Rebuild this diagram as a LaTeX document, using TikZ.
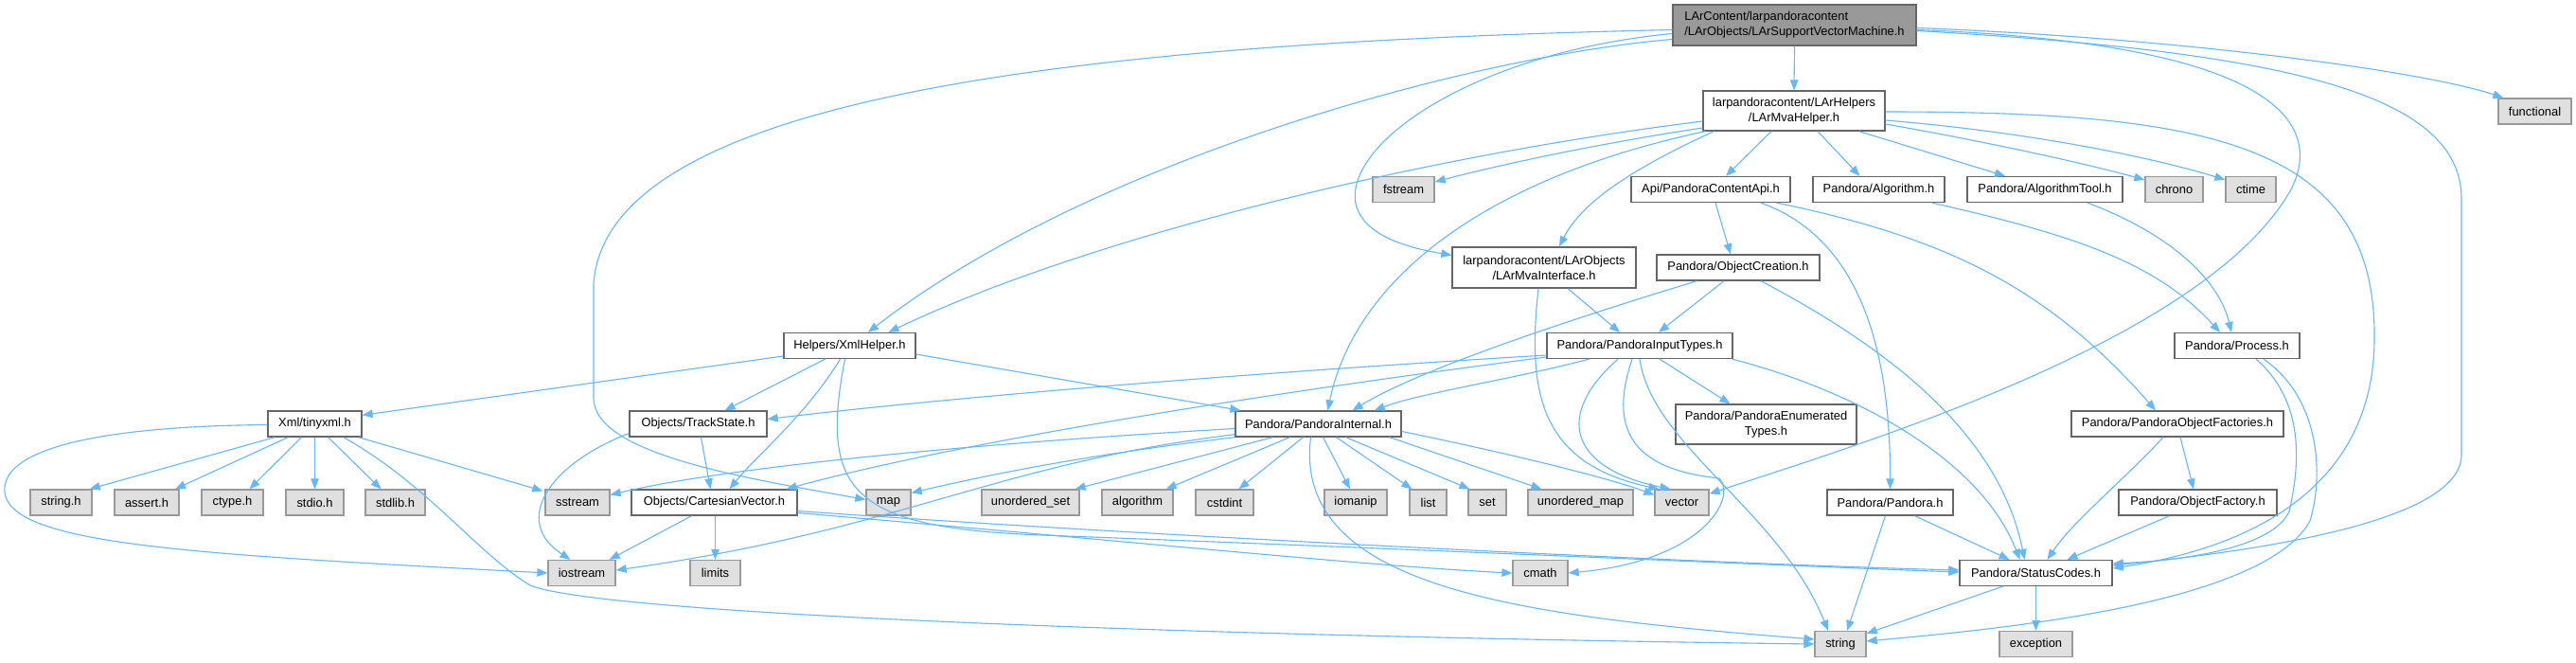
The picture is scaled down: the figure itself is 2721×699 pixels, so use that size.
\documentclass[tikz,border=0pt]{standalone}
\usepackage{fontspec}
\setmainfont{Liberation Sans}
\usetikzlibrary{arrows.meta,calc}
\definecolor{edgecol}{HTML}{63B8FF}
\definecolor{boxborder}{HTML}{666666}
\definecolor{rootfill}{HTML}{999999}
\definecolor{sysfill}{HTML}{E0E0E0}
\definecolor{sysborder}{HTML}{999999}
\newcommand\dxfont{\fontsize{12.9}{16}\selectfont}
\tikzset{
  nbox/.style={draw=boxborder, fill=white, line width=1.3pt, inner sep=0pt, font=\dxfont, align=center, text=black, minimum height=27},
  sbox/.style={nbox, draw=sysborder, fill=sysfill},
  rbox/.style={nbox, draw=boxborder, fill=rootfill},
  e/.style={draw=edgecol, line width=1.1pt, -{Triangle[length=11pt,width=8.5pt]}},
}
\begin{document}
\begin{tikzpicture}[x=1pt,y=-1pt]
\fill[white] (0,0) rectangle (2721,699);
\useasboundingbox (0,0) rectangle (2721,699);

% ---------- nodes ----------
\node[rbox, minimum width=257, minimum height=43, align=left] (main) at (1895.5,26.5) {LArContent/larpandoracontent\\/LArObjects/LArSupportVectorMachine.h};
\node[nbox, minimum width=192, minimum height=42] (mva) at (1895,117) {larpandoracontent/LArHelpers\\/LArMvaHelper.h};
\node[sbox, minimum width=77] (functional) at (2677.5,117.5) {functional};
\node[sbox, minimum width=65] (fstream) at (1482.5,200) {fstream};
\node[nbox, minimum width=168] (api) at (1807,200) {Api/PandoraContentApi.h};
\node[nbox, minimum width=139] (alg) at (1984.5,200) {Pandora/Algorithm.h};
\node[nbox, minimum width=164] (algtool) at (2160,200) {Pandora/AlgorithmTool.h};
\node[sbox, minimum width=61] (chrono) at (2296.5,200) {chrono};
\node[sbox, minimum width=53] (ctime) at (2377.5,200) {ctime};
\node[nbox, minimum width=194, minimum height=43] (mvaint) at (1631,282.5) {larpandoracontent/LArObjects\\/LArMvaInterface.h};
\node[nbox, minimum width=172] (objcr) at (1836,282.5) {Pandora/ObjectCreation.h};
\node[nbox, minimum width=139] (xmlh) at (897.5,365) {Helpers/XmlHelper.h};
\node[nbox, minimum width=196] (pit) at (1732,365) {Pandora/PandoraInputTypes.h};
\node[nbox, minimum width=132] (process) at (2363,365) {Pandora/Process.h};
\node[nbox, minimum width=99] (tinyxml) at (332.5,447.5) {Xml/tinyxml.h};
\node[nbox, minimum width=145] (trackstate) at (737.5,447.5) {Objects/TrackState.h};
\node[nbox, minimum width=175] (pint) at (1392.5,447.5) {Pandora/PandoraInternal.h};
\node[nbox, minimum width=191, minimum height=42] (enum) at (1865.5,448) {Pandora/PandoraEnumerated\\Types.h};
\node[nbox, minimum width=224] (objfs) at (2300,447.5) {Pandora/PandoraObjectFactories.h};

\node[sbox, minimum width=65] (stringh) at (64.5,530.5) {string.h};
\node[sbox, minimum width=68] (asserth) at (155,530.5) {assert.h};
\node[sbox, minimum width=65] (ctypeh) at (245.5,530.5) {ctype.h};
\node[sbox, minimum width=61] (stdioh) at (332.5,530.5) {stdio.h};
\node[sbox, minimum width=63] (stdlibh) at (417.5,530.5) {stdlib.h};
\node[sbox, minimum width=68] (sstream) at (610,530.5) {sstream};
\node[nbox, minimum width=175] (cartesian) at (754.5,530.5) {Objects/CartesianVector.h};
\node[sbox, minimum width=47] (map) at (938.5,530.5) {map};
\node[sbox, minimum width=103] (uset) at (1088.5,530.5) {unordered\_set};
\node[sbox, minimum width=75] (algorithm) at (1201.5,530.5) {algorithm};
\node[sbox, minimum width=61] (cstdint) at (1293.5,530.5) {cstdint};
\node[sbox, minimum width=66] (iomanip) at (1432,530.5) {iomanip};
\node[sbox, minimum width=39] (list) at (1508.5,530.5) {list};
\node[sbox, minimum width=40] (set) at (1571,530.5) {set};
\node[sbox, minimum width=111] (umap) at (1669.5,530.5) {unordered\_map};
\node[sbox, minimum width=57] (vector) at (1776.5,530.5) {vector};
\node[nbox, minimum width=133] (pandorah) at (1996.5,530.5) {Pandora/Pandora.h};
\node[nbox, minimum width=167] (objf) at (2321.5,530.5) {Pandora/ObjectFactory.h};

\node[sbox, minimum width=71] (iostream) at (614.5,605) {iostream};
\node[sbox, minimum width=53] (limits) at (755.5,605) {limits};
\node[sbox, minimum width=58] (cmath) at (1627,605) {cmath};
\node[nbox, minimum width=161] (status) at (2150.5,605) {Pandora/StatusCodes.h};

\node[sbox, minimum width=54] (string) at (1944,680) {string};
\node[sbox, minimum width=77] (exception) at (2150.5,680) {exception};

% ---------- edges: main ----------
\draw[e] (main.south) -- (mva.north);
\draw[e] ($(main.east)+(0,3)$) .. controls (2300,40) and (2560,75) .. ($(functional.north west)+(6,0)$);
\draw[e] ($(main.east)+(0,5)$) .. controls (2380,45) and (2460,120) .. (2420,200) .. controls (2330,360) and (1960,470) .. ($(vector.north east)+(0,5)$);
\draw[e] ($(main.east)+(0,6)$) .. controls (2420,55) and (2600,100) .. (2600,210) -- (2600,480) .. controls (2600,545) and (2420,578) .. ($(status.east)+(0,-8)$);
\draw[e] ($(main.west)+(0,15)$) .. controls (1550,60) and (1150,170) .. ($(xmlh.north)+(19.5,0)$);
\draw[e] ($(main.west)+(0,5)$) .. controls (1150,45) and (640,100) .. (627,300) -- (627,420) .. controls (627,480) and (790,505) .. ($(map.west)+(0,-3)$);
\draw[e] ($(main.west)+(0,9)$) .. controls (1560,55) and (1420,150) .. (1432,215) .. controls (1440,250) and (1490,262) .. ($(mvaint.west)+(0,-13)$);

% ---------- edges: LArMvaHelper ----------
\draw[e] ($(mva.west)+(0,18)$) .. controls (1700,150) and (1600,170) .. ($(fstream.east)+(0,-8)$);
\draw[e] ($(mva.west)+(0,11)$) .. controls (1500,165) and (1150,250) .. ($(xmlh.north)+(41,0)$);
\draw[e] ($(mva.south west)+(3,0)$) .. controls (1560,190) and (1430,300) .. ($(pint.north)+(10,0)$);
\draw[e] ($(mva.south west)+(12,0)$) .. controls (1720,180) and (1670,215) .. ($(mvaint.north)+(16,0)$);
\draw[e] ($(mva.south)+(-24,0)$) -- ($(api.north)+(16,0)$);
\draw[e] ($(mva.south)+(25,0)$) -- ($(alg.north)+(-20,0)$);
\draw[e] ($(mva.south east)+(-28,0)$) -- ($(algtool.north)+(-42,0)$);
\draw[e] ($(mva.east)+(0,14)$) .. controls (2100,150) and (2200,172) .. ($(chrono.north west)+(0,4)$);
\draw[e] ($(mva.east)+(0,10)$) .. controls (2150,140) and (2280,168) .. ($(ctime.north west)+(0,4)$);
\draw[e] ($(mva.east)+(0,1)$) .. controls (2330,118) and (2510,150) .. (2508,357) .. controls (2508,500) and (2400,575) .. ($(status.east)+(0,-5)$);

% ---------- edges: Api / Algorithm ----------
\draw[e] ($(api.south)+(5,0)$) -- ($(objcr.north)+(-8,0)$);
\draw[e] ($(api.south)+(53,0)$) .. controls (1960,250) and (1997,360) .. (pandorah.north);
\draw[e] ($(api.south east)+(-15,0)$) .. controls (2050,250) and (2160,300) .. ($(objfs.north)+(-23,0)$);
\draw[e] ($(alg.south east)+(-14,0)$) .. controls (2200,250) and (2280,280) .. ($(process.north)+(-18,0)$);
\draw[e] ($(algtool.south)+(45,0)$) .. controls (2300,250) and (2345,300) .. ($(process.north)+(-6,0)$);

% ---------- edges: ObjectCreation / LArMvaInterface ----------
\draw[e] ($(objcr.south)+(-15,0)$) -- ($(pit.north)+(20,0)$);
\draw[e] ($(objcr.south west)+(43,0)$) .. controls (1650,340) and (1500,390) .. ($(pint.north)+(36,0)$);
\draw[e] ($(objcr.south)+(24,0)$) .. controls (1980,360) and (2110,450) .. ($(status.north)+(-12,0)$);
\draw[e] ($(mvaint.south)+(25,0)$) -- ($(pit.north)+(-21,0)$);
\draw[e] ($(mvaint.south)+(-6,0)$) .. controls (1612,420) and (1630,490) .. ($(vector.north west)+(5,0)$);

% ---------- edges: PandoraInputTypes ----------
\draw[e] ($(pit.south)+(21,0)$) -- ($(enum.north)+(-38,0)$);
\draw[e] ($(pit.south east)+(-1,0)$) .. controls (1950,410) and (2090,480) .. ($(status.north)+(-17,0)$);
\draw[e] (pit.south) .. controls (1745,470) and (1880,540) .. ($(string.north)+(-13,0)$);
\draw[e] ($(pit.south)+(-23,0)$) .. controls (1640,440) and (1660,495) .. ($(vector.north)+(-12,0)$);
\draw[e] ($(pit.south)+(-8,0)$) .. controls (1700,450) and (1720,495) .. (1816,505) .. controls (1835,525) and (1800,592) .. (cmath.east);
\draw[e] ($(pit.south west)+(45,0)$) .. controls (1600,400) and (1500,415) .. ($(pint.north east)+(-29,0)$);
\draw[e] ($(pit.west)+(0,10)$) .. controls (1300,395) and (1000,420) .. ($(trackstate.east)+(0,-5)$);
\draw[e] ($(pit.west)+(0,12)$) .. controls (1300,420) and (1000,470) .. ($(cartesian.north east)+(-12,0)$);

% ---------- edges: PandoraInternal ----------
\draw[e] ($(pint.west)+(0,5)$) .. controls (1000,470) and (760,495) .. ($(sstream.east)+(0,-8)$);
\draw[e] ($(pint.south west)+(0,-3)$) .. controls (1050,490) and (950,560) .. ($(iostream.east)+(0,-3)$);
\draw[e] (pint.south west) .. controls (1150,480) and (1050,500) .. ($(map.north east)+(0,4)$);
\draw[e] ($(pint.south)+(-48,0)$) -- ($(uset.north east)+(-5,0)$);
\draw[e] ($(pint.south)+(-30,0)$) -- ($(algorithm.north east)+(-8,0)$);
\draw[e] ($(pint.south)+(-16,0)$) -- ($(cstdint.north)+(15,0)$);
\draw[e] ($(pint.south)+(5,0)$) -- ($(iomanip.north)+(-6,0)$);
\draw[e] ($(pint.south)+(19,0)$) -- ($(list.north west)+(3,0)$);
\draw[e] ($(pint.south)+(29,0)$) -- ($(set.north west)+(2,0)$);
\draw[e] ($(pint.south east)+(-13,0)$) -- ($(umap.north west)+(15,0)$);
\draw[e] ($(pint.east)+(0,8)$) .. controls (1600,480) and (1700,505) .. ($(vector.west)+(0,-8)$);
\draw[e] ($(pint.south)+(-8,0)$) .. controls (1365,620) and (1600,650) .. ($(string.west)+(0,-5)$);

% ---------- edges: XmlHelper ----------
\draw[e] ($(xmlh.west)+(0,11)$) -- ($(tinyxml.north east)+(0,5)$);
\draw[e] ($(xmlh.south)+(-26,0)$) -- ($(trackstate.north)+(28,0)$);
\draw[e] ($(xmlh.south)+(-10,0)$) .. controls (850,440) and (800,480) .. ($(cartesian.north)+(16,0)$);
\draw[e] ($(xmlh.east)+(0,9)$) -- ($(pint.north west)+(6,0)$);
\draw[e] ($(xmlh.south)+(-5,0)$) .. controls (865,520) and (900,557) .. (1100,565) .. controls (1500,580) and (1900,598) .. ($(status.west)+(0,-1)$);

% ---------- edges: TrackState / CartesianVector ----------
\draw[e] ($(trackstate.south)+(3,0)$) -- ($(cartesian.north)+(-4,0)$);
\draw[e] ($(trackstate.west)+(0,10)$) .. controls (580,490) and (540,550) .. ($(iostream.north)+(-12,0)$);
\draw[e] ($(cartesian.south)+(-24,0)$) -- ($(iostream.north east)+(-7,0)$);
\draw[e] ($(cartesian.south)+(1,0)$) -- (limits.north);
\draw[e] ($(cartesian.east)+(0,9)$) .. controls (1200,565) and (1800,595) .. ($(status.west)+(0,-3)$);
\draw[e] ($(cartesian.east)+(0,11)$) .. controls (1200,572) and (1450,598) .. (cmath.west);

% ---------- edges: tinyxml ----------
\draw[e] ($(tinyxml.south west)+(8,0)$) -- ($(stringh.north east)+(-3,0)$);
\draw[e] ($(tinyxml.south west)+(22,0)$) -- ($(asserth.north)+(30,0)$);
\draw[e] ($(tinyxml.south)+(-14,0)$) -- ($(ctypeh.north)+(18,0)$);
\draw[e] (tinyxml.south) -- (stdioh.north);
\draw[e] ($(tinyxml.south)+(14,0)$) -- ($(stdlibh.north)+(-15,0)$);
\draw[e] ($(tinyxml.south east)+(-4,0)$) -- ($(sstream.north west)+(-2,2)$);
\draw[e] ($(tinyxml.west)+(0,1)$) .. controls (100,450) and (0,475) .. (5,520) .. controls (12,575) and (200,585) .. (iostream.west);
\draw[e] ($(tinyxml.south east)+(-20,0)$) .. controls (450,510) and (505,585) .. (560,618) .. controls (640,650) and (1300,672) .. (string.west);

% ---------- edges: lower nodes ----------
\draw[e] (status.south) -- (exception.north);
\draw[e] ($(status.south)+(-35,0)$) -- ($(string.north east)+(0,3)$);
\draw[e] ($(pandorah.south)+(26,0)$) -- ($(status.north)+(-28,0)$);
\draw[e] ($(pandorah.south)+(-5,0)$) -- ($(string.north)+(7,0)$);
\draw[e] ($(objfs.south)+(-15,0)$) .. controls (2240,510) and (2190,550) .. ($(status.north)+(12,0)$);
\draw[e] ($(objfs.south)+(3,0)$) -- ($(objf.north)+(-4.5,0)$);
\draw[e] ($(objf.south)+(-30,0)$) -- ($(status.north)+(33,0)$);
\draw[e] ($(process.south)+(20,0)$) .. controls (2430,420) and (2432,480) .. (2418,540) .. controls (2400,580) and (2300,592) .. ($(status.east)+(0,-10)$);
\draw[e] ($(process.south)+(28,0)$) .. controls (2450,420) and (2455,500) .. (2440,550) .. controls (2390,640) and (2100,665) .. ($(string.east)+(0,-3)$);
\end{tikzpicture}
\end{document}
